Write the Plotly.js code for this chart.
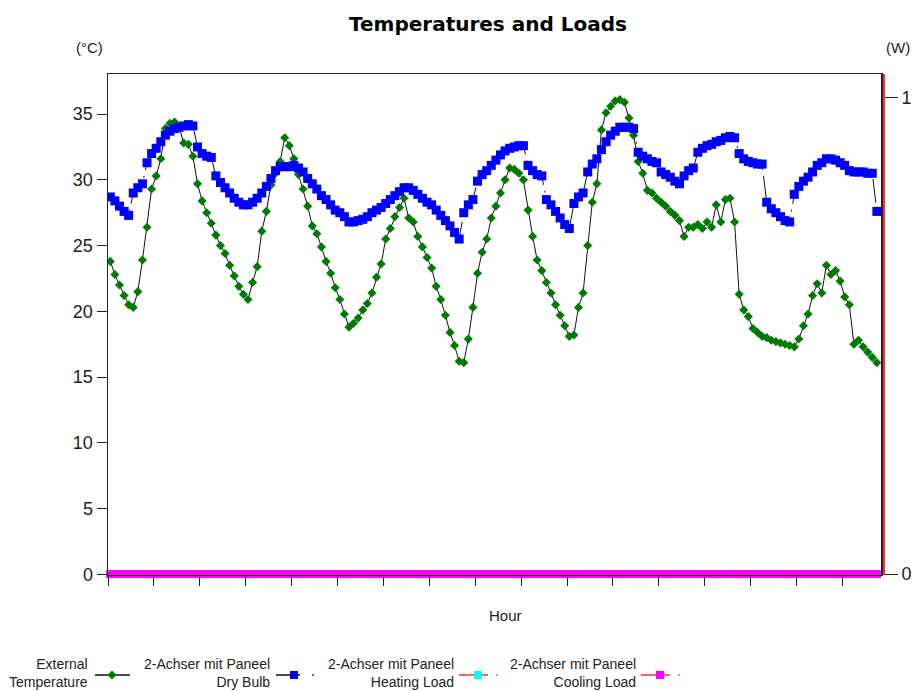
<!DOCTYPE html>
<html><head><meta charset="utf-8">
<script src="https://cdn.plot.ly/plotly-3.0.1.min.js"></script>
<style>html,body{margin:0;padding:0;background:#fff}#chart{width:919px;height:691px}</style>
</head><body><div id="chart"></div>
<script>
// ---- data ----
const externalTemperature = [
 23.8,22.8,22.0,21.2,20.5,20.3,21.5,23.9,26.4,29.3,30.3,31.6,
 33.9,34.3,34.4,34.0,32.8,32.7,31.8,29.7,28.4,27.5,26.7,25.8,
 25.0,24.4,23.5,22.7,21.9,21.3,20.9,22.2,23.4,26.1,27.6,29.6,
 30.5,31.4,33.2,32.6,31.6,30.4,29.3,28.0,26.5,25.9,24.9,23.8,
 22.9,21.8,20.9,19.8,18.8,19.1,19.5,20.1,20.6,21.4,22.6,23.6,
 25.5,26.3,27.2,27.9,28.6,27.1,26.8,25.7,24.9,24.1,23.3,21.9,
 20.9,19.7,18.4,17.4,16.2,16.1,17.9,20.3,22.9,24.5,25.5,27.1,
 28.0,29.0,30.0,30.9,30.8,30.5,30.0,27.7,25.7,23.9,23.1,22.2,
 21.4,20.5,19.7,18.9,18.1,18.2,20.3,21.4,25.0,28.3,29.7,33.8,
 35.1,35.6,36.0,36.1,35.9,34.7,33.4,31.4,30.5,29.2,29.0,28.6,
 28.3,28.0,27.6,27.3,26.9,25.7,26.4,26.4,26.6,26.3,26.8,26.4,
 28.1,26.8,28.5,28.6,26.8,21.3,20.1,19.6,18.7,18.4,18.1,18.0,
 17.8,17.7,17.6,17.5,17.4,17.3,17.9,18.9,19.8,21.2,22.1,21.4,
 23.5,22.8,23.1,22.3,21.1,20.5,17.5,17.8,17.3,16.9,16.5,16.1
];
const dryBulb = [
 28.7,28.4,28.0,27.6,27.3,29.0,29.4,29.7,31.3,32.0,32.4,32.9,
 33.4,33.7,33.9,34.0,34.1,34.2,34.1,32.5,32.0,31.8,31.7,30.3,
 29.8,29.4,29.0,28.6,28.3,28.1,28.1,28.3,28.6,29.0,29.5,30.1,
 30.7,31.0,31.0,31.0,31.1,30.9,30.6,30.1,29.7,29.3,28.8,28.5,
 28.1,27.7,27.5,27.2,26.8,26.8,26.9,27.0,27.2,27.5,27.7,27.9,
 28.2,28.5,28.8,29.1,29.4,29.4,29.2,28.9,28.6,28.3,28.1,27.7,
 27.3,26.9,26.5,26.0,25.5,27.5,28.1,28.5,29.9,30.4,30.7,31.1,
 31.5,31.9,32.2,32.4,32.5,32.6,32.6,31.1,30.7,30.4,30.3,28.5,
 28.1,27.6,27.1,26.6,26.3,28.2,28.7,29.0,30.6,31.2,31.6,32.3,
 32.9,33.4,33.7,34.0,34.0,34.0,33.9,32.1,31.8,31.6,31.4,31.3,
 30.6,30.4,30.2,29.9,29.7,30.3,30.7,30.9,32.1,32.4,32.6,32.7,
 32.9,33.0,33.2,33.3,33.2,32.0,31.6,31.4,31.3,31.2,31.2,28.3,
 27.8,27.5,27.2,26.9,26.8,28.9,29.5,29.9,30.2,30.6,31.1,31.3,
 31.6,31.6,31.5,31.3,31.1,30.7,30.6,30.6,30.6,30.5,30.5,27.6
];
const heatingLoad = [
 0,0,0,0,0,0,0,0,0,0,0,0, 0,0,0,0,0,0,0,0,0,0,0,0,
 0,0,0,0,0,0,0,0,0,0,0,0, 0,0,0,0,0,0,0,0,0,0,0,0,
 0,0,0,0,0,0,0,0,0,0,0,0, 0,0,0,0,0,0,0,0,0,0,0,0,
 0,0,0,0,0,0,0,0,0,0,0,0, 0,0,0,0,0,0,0,0,0,0,0,0,
 0,0,0,0,0,0,0,0,0,0,0,0, 0,0,0,0,0,0,0,0,0,0,0,0,
 0,0,0,0,0,0,0,0,0,0,0,0, 0,0,0,0,0,0,0,0,0,0,0,0,
 0,0,0,0,0,0,0,0,0,0,0,0, 0,0,0,0,0,0,0,0,0,0,0,0
];
const coolingLoad = [
 0,0,0,0,0,0,0,0,0,0,0,0, 0,0,0,0,0,0,0,0,0,0,0,0,
 0,0,0,0,0,0,0,0,0,0,0,0, 0,0,0,0,0,0,0,0,0,0,0,0,
 0,0,0,0,0,0,0,0,0,0,0,0, 0,0,0,0,0,0,0,0,0,0,0,0,
 0,0,0,0,0,0,0,0,0,0,0,0, 0,0,0,0,0,0,0,0,0,0,0,0,
 0,0,0,0,0,0,0,0,0,0,0,0, 0,0,0,0,0,0,0,0,0,0,0,0,
 0,0,0,0,0,0,0,0,0,0,0,0, 0,0,0,0,0,0,0,0,0,0,0,0,
 0,0,0,0,0,0,0,0,0,0,0,0, 0,0,0,0,0,0,0,0,0,0,0,0
];
const hourTicks = [0,10,20,30,40,50,60,70,80,90,100,110,120,130,140,150,160];
const tempTicks = [0,5,10,15,20,25,30,35];
const loadTicks = [0,1];
const seriesNames = [
 'External<br>Temperature',
 '2-Achser mit Paneel<br>Dry Bulb',
 '2-Achser mit Paneel<br>Heating Load',
 '2-Achser mit Paneel<br>Cooling Load'
];
const hours = externalTemperature.map((_, i) => i + 0.5);

// ---- geometry helpers (layout only) ----
const L = 108, RP = 884, T = 74, B = 575;
const px = x => (x - L) / (RP - L);
const py = y => (B - y) / (B - T);

const FONT = 'Liberation Sans, Arial, sans-serif';
const TXT = '#222';

const traces = [
 {x: hours, y: externalTemperature, name: seriesNames[0], type: 'scatter', mode: 'lines+markers',
  line: {color: '#111', width: 1}, marker: {symbol: 'diamond', size: 7, color: '#007a00'}, yaxis: 'y'},
 {x: hours, y: dryBulb, name: seriesNames[1], type: 'scatter', mode: 'lines+markers',
  line: {color: '#111', width: 1, dash: '24px,6px,2px,6px'}, marker: {symbol: 'square', size: 9, color: '#0000ff'}, yaxis: 'y'},
 {x: hours, y: heatingLoad, name: seriesNames[2], type: 'scatter', mode: 'lines+markers', cliponaxis: false,
  line: {color: '#ff2020', width: 1, dash: 'dashdot'}, marker: {symbol: 'square', size: 8, color: '#00ffff'}, yaxis: 'y2'},
 {x: hours, y: coolingLoad, name: seriesNames[3], type: 'scatter', mode: 'markers', cliponaxis: false,
  marker: {symbol: 'square', size: 8, color: '#ff00ff'}, yaxis: 'y2'}
];

// manual legend (text on the left of the symbol, as in the reference)
const legendY = 675;
const legendItems = [
 {textRight: 90, l0: 95, l1: 130, mx: 112, dot: null, lineColor: '#111', mColor: '#007a00', sym: 'diamond'},
 {textRight: 272, l0: 276, l1: 300, mx: 294, dot: 313, lineColor: '#111', mColor: '#0000ff', sym: 'square'},
 {textRight: 456, l0: 459, l1: 488, mx: 478, dot: 497, lineColor: '#ff3030', mColor: '#00ffff', sym: 'square'},
 {textRight: 638, l0: 641, l1: 670, mx: 660, dot: 679, lineColor: '#ff3030', mColor: '#ff00ff', sym: 'square'}
];
const shapes = [];
const annotations = [];
legendItems.forEach((it, k) => {
 annotations.push({xref: 'paper', yref: 'paper', x: px(it.textRight), y: py(673), xanchor: 'right', yanchor: 'middle',
  align: 'right', showarrow: false, text: seriesNames[k], font: {family: FONT, size: 14, color: TXT}});
 shapes.push({type: 'line', xref: 'paper', yref: 'paper', x0: px(it.l0), x1: px(it.l1), y0: py(legendY), y1: py(legendY),
  line: {color: it.lineColor, width: 1.5}});
 if (it.sym === 'diamond') {
  const r = 4.5;
  shapes.push({type: 'path', xref: 'paper', yref: 'paper',
   path: `M ${px(it.mx - r)},${py(legendY)} L ${px(it.mx)},${py(legendY - r)} L ${px(it.mx + r)},${py(legendY)} L ${px(it.mx)},${py(legendY + r)} Z`,
   fillcolor: it.mColor, line: {width: 0}});
 } else {
  const r = 4;
  shapes.push({type: 'rect', xref: 'paper', yref: 'paper', x0: px(it.mx - r), x1: px(it.mx + r), y0: py(legendY + r), y1: py(legendY - r),
   fillcolor: it.mColor, line: {width: 0}});
 }
 if (it.dot !== null) {
  shapes.push({type: 'rect', xref: 'paper', yref: 'paper', x0: px(it.dot - 0.8), x1: px(it.dot + 0.8), y0: py(legendY + 0.8), y1: py(legendY - 0.8),
   fillcolor: it.lineColor, line: {width: 0}});
 }
});
annotations.push(
 {xref: 'paper', yref: 'paper', x: px(89), y: py(48), xanchor: 'center', yanchor: 'middle', showarrow: false,
  text: '(°C)', font: {family: FONT, size: 15, color: TXT}},
 {xref: 'paper', yref: 'paper', x: px(898), y: py(48), xanchor: 'center', yanchor: 'middle', showarrow: false,
  text: '(W)', font: {family: FONT, size: 15, color: TXT}},
 {xref: 'paper', yref: 'paper', x: px(506), y: py(615), xanchor: 'center', yanchor: 'middle', showarrow: false,
  text: 'Hour', font: {family: FONT, size: 15, color: TXT}}
);

const layout = {
 width: 919, height: 691,
 margin: {l: L, r: 919 - RP, t: T, b: 691 - B, pad: 0},
 paper_bgcolor: '#fff', plot_bgcolor: '#fff',
 showlegend: false,
 font: {family: FONT, color: TXT},
 title: {text: '<b>Temperatures and Loads</b>', xref: 'container', yref: 'container', x: 488 / 919, y: 1 - 24 / 691,
  xanchor: 'center', yanchor: 'middle', font: {family: 'DejaVu Sans, sans-serif', size: 20, color: '#000'}},
 xaxis: {domain: [0, (881 - L) / (RP - L)], range: [0, 168.4], tickmode: 'array', tickvals: hourTicks, showticklabels: false,
  ticks: 'outside', ticklen: 10, tickcolor: '#222', tickwidth: 1, showgrid: false, zeroline: false,
  showline: true, linecolor: '#222', linewidth: 1, mirror: true, automargin: false},
 yaxis: {range: [-0.05, 38.05], tickmode: 'array', tickvals: tempTicks, ticks: 'outside', ticklen: 10, tickcolor: '#222',
  showgrid: false, zeroline: false, showline: true, linecolor: '#222', linewidth: 1.5, mirror: true,
  tickfont: {family: FONT, size: 18, color: TXT}, automargin: false},
 yaxis2: {overlaying: 'y', side: 'right', anchor: 'free', position: 1, range: [-0.002, 1.05], tickmode: 'array', tickvals: loadTicks,
  ticks: 'outside', ticklen: 13, tickcolor: '#222', showgrid: false, zeroline: false, showline: true, linecolor: '#ff3030', linewidth: 2,
  tickfont: {family: FONT, size: 18, color: TXT}, automargin: false},
 shapes: shapes,
 annotations: annotations
};

Plotly.newPlot('chart', traces, layout, {displayModeBar: false, staticPlot: true});
</script></body></html>
